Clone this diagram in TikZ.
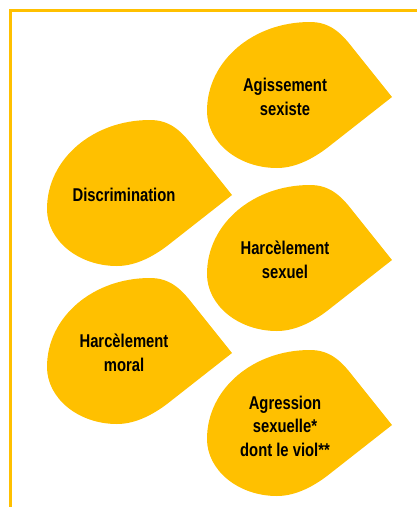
\documentclass[tikz,border=0pt]{standalone}
\usepackage{fontspec}
\setmainfont{Liberation Sans}[FakeStretch=0.80]
\definecolor{petalgold}{HTML}{FFC000}
\begin{document}
\begin{tikzpicture}[x=1pt,y=-1pt,
  petal/.pic={
    \fill[petalgold] (0,0) -- (-40,-50)
      .. controls (-51,-64) and (-62,-75) .. (-82,-75)
      .. controls (-139,-75) and (-185,-36) .. (-185,14)
      .. controls (-185,45) and (-154,71) .. (-115,71)
      .. controls (-95,71) and (-77,60) .. (-65,51)
      -- cycle;
  },
  label/.style={font=\bfseries\fontsize{18.5}{23.5}\selectfont, align=center, text=black, inner sep=0pt}
]
\useasboundingbox (0,0) rectangle (417,507);
% frame along the top and left edges
\draw[petalgold, line width=3pt] (10.5,507) -- (10.5,10) -- (417,10);

% petals, each anchored at its tip
\pic at (392,97)  {petal};
\pic at (232,195) {petal};
\pic at (392,260) {petal};
\pic at (232,353) {petal};
\pic at (392,425) {petal};

\node[label] (agissement) at (285,97)  {Agissement\\sexiste};
\node[label] (discrim)    at (124,195) {Discrimination};
\node[label] (hsexuel)    at (285,260) {Harcèlement\\sexuel};
\node[label] (hmoral)     at (124,353) {Harcèlement\\moral};
\node[label] (agression)  at (285,426) {Agression\\sexuelle*\\dont le viol**};
\end{tikzpicture}
\end{document}
